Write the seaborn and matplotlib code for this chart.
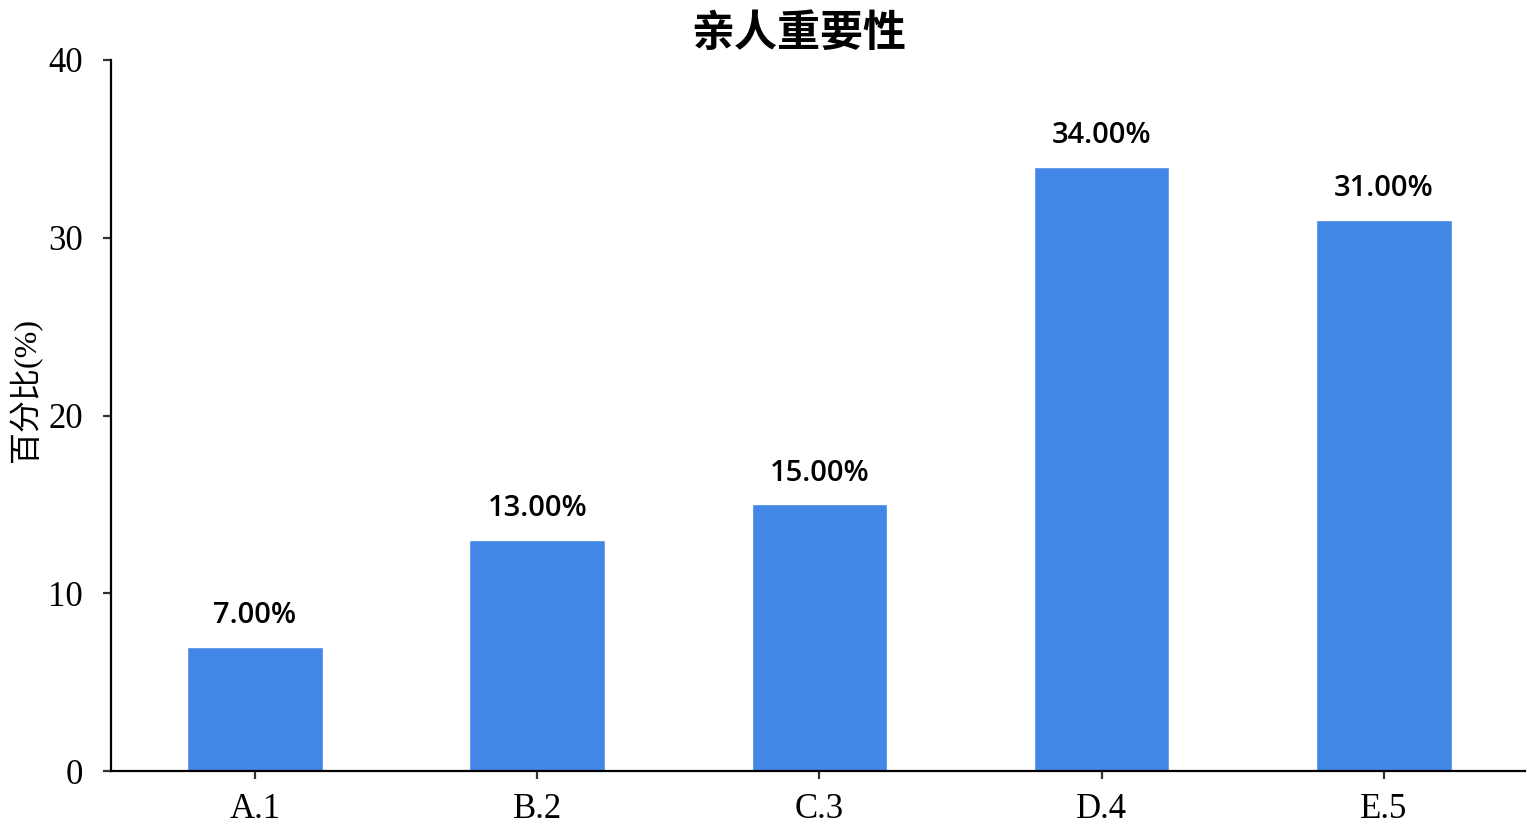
import pandas as pd
import numpy as np
import matplotlib.pyplot as plt
import seaborn as sns

categories = ['A.1', 'B.2', 'C.3', 'D.4', 'E.5']
percents = [7.0, 13.0, 15.0, 34.0, 31.0]
labels = ['7.00%', '13.00%', '15.00%', '34.00%', '31.00%']

df = pd.DataFrame({'option': categories, 'pct': percents})

sns.set_style('ticks', {'text.color': 'black', 'axes.labelcolor': 'black',
                        'xtick.color': 'black', 'ytick.color': 'black'})
plt.rcParams['font.family'] = ['Liberation Serif', 'Noto Sans CJK SC', 'DejaVu Sans']

fig = plt.figure(figsize=(15.27, 8.33), dpi=100)
ax = fig.add_axes([0.0727, 0.0744, 0.9260, 0.8536])

sns.barplot(data=df, x='option', y='pct', color='#4287e6', saturation=1,
            width=0.48, ax=ax)

for i, (v, t) in enumerate(zip(percents, labels)):
    ax.annotate(t, (i, v), xytext=(0, 12), textcoords='offset points',
                ha='center', va='bottom', fontsize=21, color='black',
                family=['Open Sans', 'DejaVu Sans'], fontweight='semibold')

ax.set_xlim(-0.51, 4.5)
ax.set_ylim(0, 40)
ax.set_yticks([0, 10, 20, 30, 40])
ax.set_xlabel('')
ax.set_ylabel('百分比(%)', fontsize=23)
ax.yaxis.set_label_coords(-0.049, 0.536)
sns.despine(ax=ax)
for s in ['left', 'bottom']:
    ax.spines[s].set_linewidth(1.6)
    ax.spines[s].set_color('black')
ax.tick_params(axis='both', length=6, width=1.6, color='#333333', labelsize=25)
ax.tick_params(axis='y', pad=14)
ax.tick_params(axis='x', pad=10)

fig.text(799 / 1527, 1 - 33 / 833, '亲人重要性', ha='center', va='center',
         fontsize=31, fontweight='bold', color='black',
         family=['Noto Sans CJK SC', 'DejaVu Sans'])

fig.savefig('out.png', dpi=100)
